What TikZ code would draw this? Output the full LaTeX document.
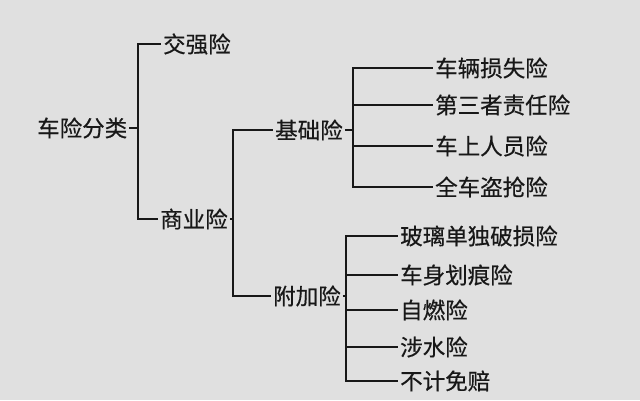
\documentclass[tikz,border=0pt]{standalone}
\usepackage{fontspec}
\setmainfont{Noto Sans CJK SC}[UprightFeatures={FakeBold=0.5}]
\definecolor{fondG}{RGB}{224,224,224}
\definecolor{texteN}{RGB}{24,24,24}

\begin{document}
\begin{tikzpicture}[x=1pt,y=-1pt,
    lbl/.style={anchor=west,inner sep=2pt,text=texteN,font=\fontsize{22.5}{26}\selectfont},
    conn/.style={draw=texteN,line width=2.2pt}]
    \fill[fondG] (0,0) rectangle (640,400);
    \useasboundingbox (0,0) rectangle (640,400);
    % niveau 1
    \node[lbl] (racine) at (35,128) {车险分类};
    \node[lbl] (jiaoqiang) at (161,44) {交强险};
    \node[lbl] (shangye) at (158,219) {商业险};
    % niveau 2
    \node[lbl] (jichu) at (273,130) {基础险};
    \node[lbl] (fujia) at (271,296) {附加险};
    % niveau 3
    \node[lbl] (chesun) at (433,68) {车辆损失险};
    \node[lbl] (sanzhe) at (433,105) {第三者责任险};
    \node[lbl] (renyuan) at (433,146) {车上人员险};
    \node[lbl] (daoqiang) at (433,187) {全车盗抢险};
    \node[lbl] (boli) at (398,236) {玻璃单独破损险};
    \node[lbl] (huahen) at (398,275) {车身划痕险};
    \node[lbl] (ziran) at (398,310) {自燃险};
    \node[lbl] (sheshui) at (398,347) {涉水险};
    \node[lbl] (mianpei) at (398,381) {不计免赔};
    % embranchements
    \coordinate (br1) at (138,128);
    \coordinate (br2) at (233,219);
    \coordinate (br3) at (353,130);
    \coordinate (br4) at (346,296);
    \draw[conn] (racine.east) -- (br1);
    \draw[conn] (br1) |- (jiaoqiang.west);
    \draw[conn] (br1) |- (shangye.west);
    \draw[conn] (shangye.east) -- (br2);
    \draw[conn] (br2) |- (jichu.west);
    \draw[conn] (br2) |- (fujia.west);
    \draw[conn] (jichu.east) -- (br3);
    \draw[conn] (br3) |- (chesun.west);
    \draw[conn] (br3) |- (sanzhe.west);
    \draw[conn] (br3) |- (renyuan.west);
    \draw[conn] (br3) |- (daoqiang.west);
    \draw[conn] (fujia.east) -- (br4);
    \draw[conn] (br4) |- (boli.west);
    \draw[conn] (br4) |- (huahen.west);
    \draw[conn] (br4) |- (ziran.west);
    \draw[conn] (br4) |- (sheshui.west);
    \draw[conn] (br4) |- (mianpei.west);
\end{tikzpicture}
\end{document}
